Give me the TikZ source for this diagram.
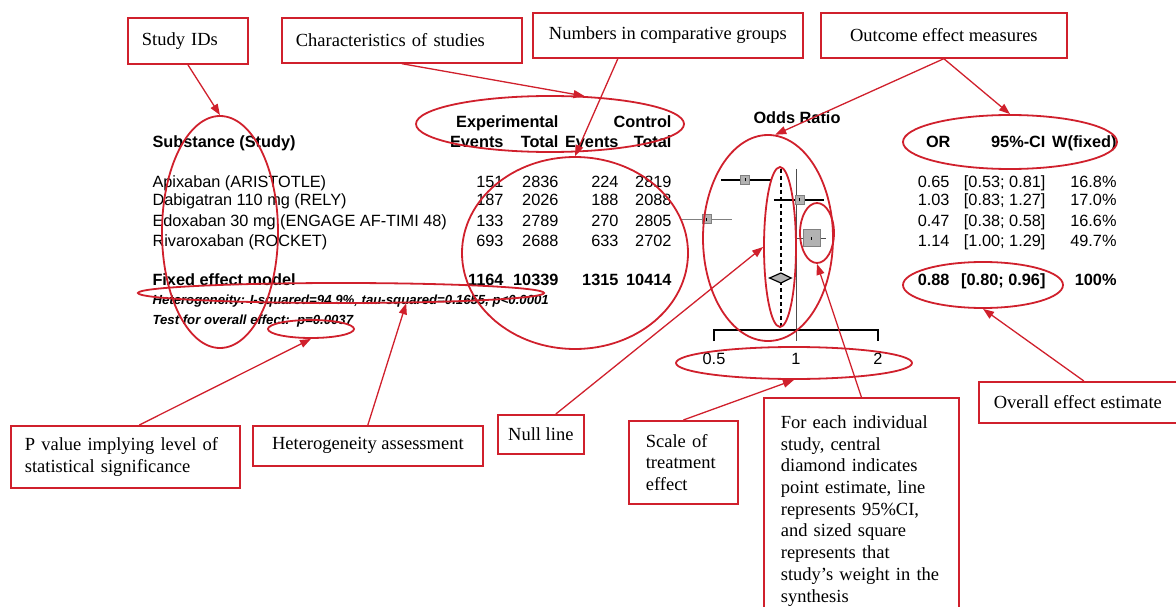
\documentclass[tikz,border=0pt]{standalone}
\usepackage{fontspec}
\setmainfont{Liberation Serif}
\newfontfamily\arial{Liberation Sans}
\usetikzlibrary{arrows.meta,shapes.geometric}
\definecolor{redline}{RGB}{208,32,44}
\definecolor{sqgray}{RGB}{178,178,178}
\tikzset{every picture/.style={line width=1pt}}
\tikzset{
    callout/.style={draw=redline, line width=1.7pt, font=\fontsize{18.5}{21.7}\selectfont, align=left, inner xsep=14pt, inner ysep=0pt, anchor=north west},
    ring/.style={draw=redline, line width=1.8pt, ellipse, inner sep=0pt},
    pointer/.style={draw=redline, line width=1.3pt, -{Triangle[length=11pt,width=8pt]}},
    tab/.style={font=\arial\fontsize{16.3}{19}\selectfont, inner sep=0pt},
    tabb/.style={font=\arial\bfseries\fontsize{16.3}{19}\selectfont, inner sep=0pt},
    tabi/.style={font=\arial\bfseries\itshape\fontsize{13.2}{15}\selectfont, inner sep=0pt, anchor=base west}}
\def\xone{796}% OR = 1
\def\xunit{82}% one doubling of the OR

\begin{document}
\begin{tikzpicture}[x=1pt,y=-1pt]
            \useasboundingbox (0,0) rectangle (1176,607);

            %Headings
            \node[tabb, anchor=base] (ortitle) at (797,124) {Odds Ratio};
            \node[tabb, anchor=base east] (hexp) at (559,128) {Experimental};
            \node[tabb, anchor=base east] (hctl) at (672,128) {Control};
            \node[tabb, anchor=base west] (hsub) at (152,148) {Substance (Study)};
            \node[tabb, anchor=base east] (hev1) at (504,148) {Events};
            \node[tabb, anchor=base east] (hto1) at (559,148) {Total};
            \node[tabb, anchor=base east] (hev2) at (619,148) {Events};
            \node[tabb, anchor=base east] (hto2) at (672,148) {Total};
            \node[tabb, anchor=base east] (hor) at (951,148) {OR};
            \node[tabb, anchor=base east] (hci) at (1046,148) {95\%-CI};
            \node[tabb, anchor=base east] (hw) at (1117,148) {W(fixed)};

            %Studies
            \foreach \i/\y/\study/\expev/\exptot/\ctlev/\ctltot/\orv/\civ/\wt in {
                1/187/Apixaban (ARISTOTLE)/151/2836/224/2819/0.65/{[0.53; 0.81]}/16.8,
                2/206/Dabigatran 110 mg (RELY)/187/2026/188/2088/1.03/{[0.83; 1.27]}/17.0,
                3/226/Edoxaban 30 mg (ENGAGE AF-TIMI 48)/133/2789/270/2805/0.47/{[0.38; 0.58]}/16.6,
                4/246/Rivaroxaban (ROCKET)/693/2688/633/2702/1.14/{[1.00; 1.29]}/49.7}{
                \node[tab, anchor=base west] (study\i) at (152,\y) {\study};
                \node[tab, anchor=base east] (expev\i) at (504,\y) {\expev};
                \node[tab, anchor=base east] (exptot\i) at (559,\y) {\exptot};
                \node[tab, anchor=base east] (ctlev\i) at (619,\y) {\ctlev};
                \node[tab, anchor=base east] (ctltot\i) at (672,\y) {\ctltot};
                \node[tab, anchor=base east] (orv\i) at (950,\y) {\orv};
                \node[tab, anchor=base east] (civ\i) at (1046,\y) {\civ};
                \node[tab, anchor=base east] (wt\i) at (1117,\y) {\wt\%};
            }

            %Pooled result
            \node[tabb, anchor=base west] (fixname) at (152,285) {Fixed effect model};
            \node[tabb, anchor=base east] (fixexpev) at (504,285) {1164};
            \node[tabb, anchor=base east] (fixexptot) at (559,285) {10339};
            \node[tabb, anchor=base east] (fixctlev) at (619,285) {1315};
            \node[tabb, anchor=base east] (fixctltot) at (672,285) {10414};
            \node[tabb, anchor=base east] (fixor) at (950,285) {0.88};
            \node[tabb, anchor=base east] (fixci) at (1046,285) {[0.80; 0.96]};
            \node[tabb, anchor=base east] (fixwt) at (1117,285) {100\%};
            \node[tabi] (het) at (152,304) {Heterogeneity: I-squared=94.9\%, tau-squared=0.1655, p<0.0001};
            \node[tabi] (ovtest) at (152,324) {Test for overall effect:\ \ p=0.0037};

            %Forest plot
            \draw[line width=0.8pt, black!70] (\xone,169) -- (\xone,341);
            \draw[line width=1.5pt, dash pattern=on 4pt off 3pt] ({\xone+\xunit*ln(0.88)/ln(2)},169) -- ({\xone+\xunit*ln(0.88)/ln(2)},330);
            \foreach \i/\y/\est/\lo/\hi/\s/\c/\w in {1/180/0.65/0.53/0.81/9pt/black/1.6pt, 2/200/1.03/0.83/1.27/9pt/black/1.6pt, 3/219/0.47/0.38/0.58/9pt/gray/0.9pt, 4/238/1.14/1.00/1.29/17pt/black!70/0.9pt}{
                \draw[\c, line width=\w] ({\xone+\xunit*ln(\lo)/ln(2)},\y) -- ({\xone+\xunit*ln(\hi)/ln(2)},\y);
                \node[draw=gray, fill=sqgray, minimum size=\s, inner sep=0pt, line width=0.6pt] (sq\i) at ({\xone+\xunit*ln(\est)/ln(2)},\y) {};
                \draw[line width=1pt] ([yshift=-1.5pt]sq\i.center) -- ([yshift=1.5pt]sq\i.center);
            }
            \draw[fill=sqgray, line width=1.2pt] ({\xone+\xunit*ln(0.80)/ln(2)},278) -- ({\xone+\xunit*ln(0.88)/ln(2)},273) -- ({\xone+\xunit*ln(0.96)/ln(2)},278) -- ({\xone+\xunit*ln(0.88)/ln(2)},283) -- cycle;

            %Axis
            \draw[line width=1.4pt] ({\xone-\xunit},341) -- ({\xone-\xunit},330) -- ({\xone+\xunit},330) -- ({\xone+\xunit},341);
            \node[tab, anchor=base] (tick05) at ({\xone-\xunit},364) {0.5};
            \node[tab, anchor=base] (tick1) at (\xone,364) {1};
            \node[tab, anchor=base] (tick2) at ({\xone+\xunit},364) {2};

            %Rings
            \node[ring, minimum width=116pt, minimum height=232pt] (idell) at (220,232) {};
            \node[ring, minimum width=268pt, minimum height=56pt] (charell) at (550,124) {};
            \node[ring, minimum width=226pt, minimum height=192pt] (numell) at (575,253) {};
            \node[ring, minimum width=130pt, minimum height=206pt] (orell) at (768,238) {};
            \node[ring, minimum width=214pt, minimum height=54pt] (outell) at (1010,142) {};
            \node[ring, minimum width=32pt, minimum height=160pt] (nullell) at (780,247) {};
            \node[ring, minimum width=34pt, minimum height=60pt] (sqell) at (817,233) {};
            \node[ring, minimum width=236pt, minimum height=32pt] (scaleell) at (794,363) {};
            \node[ring, minimum width=160pt, minimum height=46pt] (estell) at (983,285) {};
            \node[ring, minimum width=406pt, minimum height=20pt] (hetell) at (341,293) {};
            \node[ring, minimum width=86pt, minimum height=18pt] (pell) at (311,329) {};

            %Boxes
            \node[callout, text width=92pt, minimum height=46pt] (ids) at (127,17) {Study IDs};
            \node[callout, text width=212pt, minimum height=45pt] (chars) at (281,17) {Characteristics of studies};
            \node[callout, minimum width=270pt, minimum height=45pt] (nums) at (532,12) {Numbers in comparative groups};
            \node[callout, minimum width=246pt, minimum height=45pt] (outc) at (820,12) {Outcome effect measures};
            \node[callout, text width=201pt, minimum height=62pt] (pval) at (10,425) {P value implying level of\\statistical significance};
            \node[callout, minimum width=230pt, minimum height=40pt] (hetbox) at (252,425) {Heterogeneity assessment};
            \node[callout, inner xsep=8pt, minimum width=86pt, minimum height=39pt] (nullbox) at (497,414) {Null line};
            \node[callout, text width=75pt, inner xsep=17pt, minimum height=83pt] (scalebox) at (628,420) {Scale of\\treatment\\effect};
            \node[callout, text width=161pt, inner xsep=17pt, minimum height=226pt] (bigbox) at (763,397) {For each individual\\study, central\\diamond indicates\\point estimate, line\\represents 95\%CI,\\and sized square\\represents that\\study’s weight in the\\synthesis};
            \node[callout, inner xsep=8pt, minimum width=198pt, minimum height=41pt] (overall) at (978,381) {Overall effect estimate};

            %Arrows
            \draw[pointer] (ids.south) -- (idell.north);
            \draw[pointer] (chars.south) -- (charell.39);
            \draw[pointer] ([xshift=-50pt]nums.south) -- (numell.north);
            \draw[pointer] (outc.south) -- (orell.86);
            \draw[pointer] (outc.south) -- (outell.north);
            \draw[pointer] ([xshift=14pt]pval.north) -- (pell.south);
            \draw[pointer] (hetbox.north) -- (hetell.-9);
            \draw[pointer] ([xshift=15pt]nullbox.north) -- (nullell.west);
            \draw[pointer] (scalebox.north) -- (scaleell.south);
            \draw[pointer] (bigbox.north) -- (sqell.south);
            \draw[pointer] ([xshift=6pt]overall.north) -- (estell.south);
        \end{tikzpicture}
\end{document}
